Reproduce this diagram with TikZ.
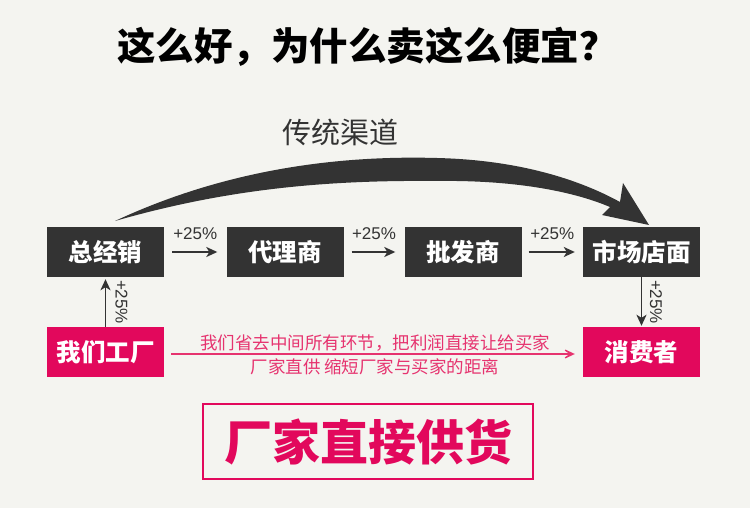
\documentclass[tikz,border=0pt]{standalone}
\usepackage{fontspec}
\setmainfont{Liberation Sans}
\newfontfamily\cjk{Noto Sans CJK SC}
\usetikzlibrary{arrows.meta}
\definecolor{bg}{HTML}{F4F4F0}
\definecolor{dark}{HTML}{333333}
\definecolor{rose}{HTML}{E2085C}
\definecolor{lightrose}{HTML}{E6336F}
\begin{document}
\begin{tikzpicture}[x=1pt,y=-1pt,
  darkbox/.style={fill=dark, text=white, minimum width=117pt, minimum height=50pt, inner sep=0pt, font=\cjk\bfseries\fontsize{24.5}{24.5}\selectfont},
  pinkbox/.style={darkbox, fill=rose},
  pct/.style={font=\fontsize{17}{17}\selectfont, text=dark, inner sep=0pt},
  flow/.style={draw=dark, line width=1.8pt, -{Stealth[length=11pt,width=10pt,inset=3pt]}},
  pinktext/.style={text=lightrose, inner sep=0pt, font=\cjk\fontsize{17.5}{17.5}\selectfont}]
\fill[bg] (0,0) rectangle (750,508);
\useasboundingbox (0,0) rectangle (750,508);

\node[inner sep=0pt, font=\cjk\bfseries\fontsize{38.5}{38.5}\selectfont, text=black] (title) at (367.5,47) {这么好，为什么卖这么便宜？};
\node[inner sep=0pt, font=\cjk\fontsize{29}{29}\selectfont, text=dark] (trad) at (340,132) {传统渠道};

% curved arrow
\fill[dark] (115,221) .. controls (220,172) and (330,155) .. (437,158)
  .. controls (520,160) and (580,180) .. (620,202)
  -- (623,183) -- (649,225) -- (602,215) -- (610,207)
  .. controls (570,190) and (510,180) .. (437,181)
  .. controls (330,180) and (230,188) .. (115,221) -- cycle;

\node[darkbox] (zj) at (105.5,252) {总经销};
\node[darkbox] (dl) at (285,252) {代理商};
\node[darkbox] (pf) at (463,252) {批发商};
\node[darkbox] (sc) at (641.5,252) {市场店面};
\node[pinkbox] (gc) at (105.5,352) {我们工厂};
\node[pinkbox] (xf) at (641.5,352) {消费者};

\draw[flow, shorten <=8pt, shorten >=9pt] (zj) -- node[pct, above=11pt] {+25\%} (dl);
\draw[flow, shorten <=8pt, shorten >=9pt] (dl) -- node[pct, above=11pt] {+25\%} (pf);
\draw[flow, shorten <=7pt, shorten >=8pt] (pf) -- node[pct, above=11pt] {+25\%} (sc);

\draw[flow, shorten >=2pt] (gc) -- (zj);
\node[pct, rotate=-90] (l1) at (121.5,302) {+25\%};
\draw[flow, shorten >=1pt] (sc) -- (xf);
\node[pct, rotate=-90] (l2) at (656,302) {+25\%};

\draw[draw=lightrose, line width=1.5pt, shorten <=7pt, shorten >=8pt, -{Stealth[length=17pt,width=16pt,inset=12pt]}] ([yshift=-2pt]gc.east) -- ([yshift=-2pt]xf.west);
\node[pinktext] (t1) at (375,343) {我们省去中间所有环节，把利润直接让给买家};
\node[pinktext] (t2) at (375,367) {厂家直供 缩短厂家与买家的距离};

\node[draw=rose, line width=2pt, minimum width=330pt, minimum height=75pt, inner sep=0pt, text=rose, font=\cjk\bfseries\fontsize{48}{48}\selectfont] (direct) at (368,441.5) {厂家直接供货};
\end{tikzpicture}
\end{document}
